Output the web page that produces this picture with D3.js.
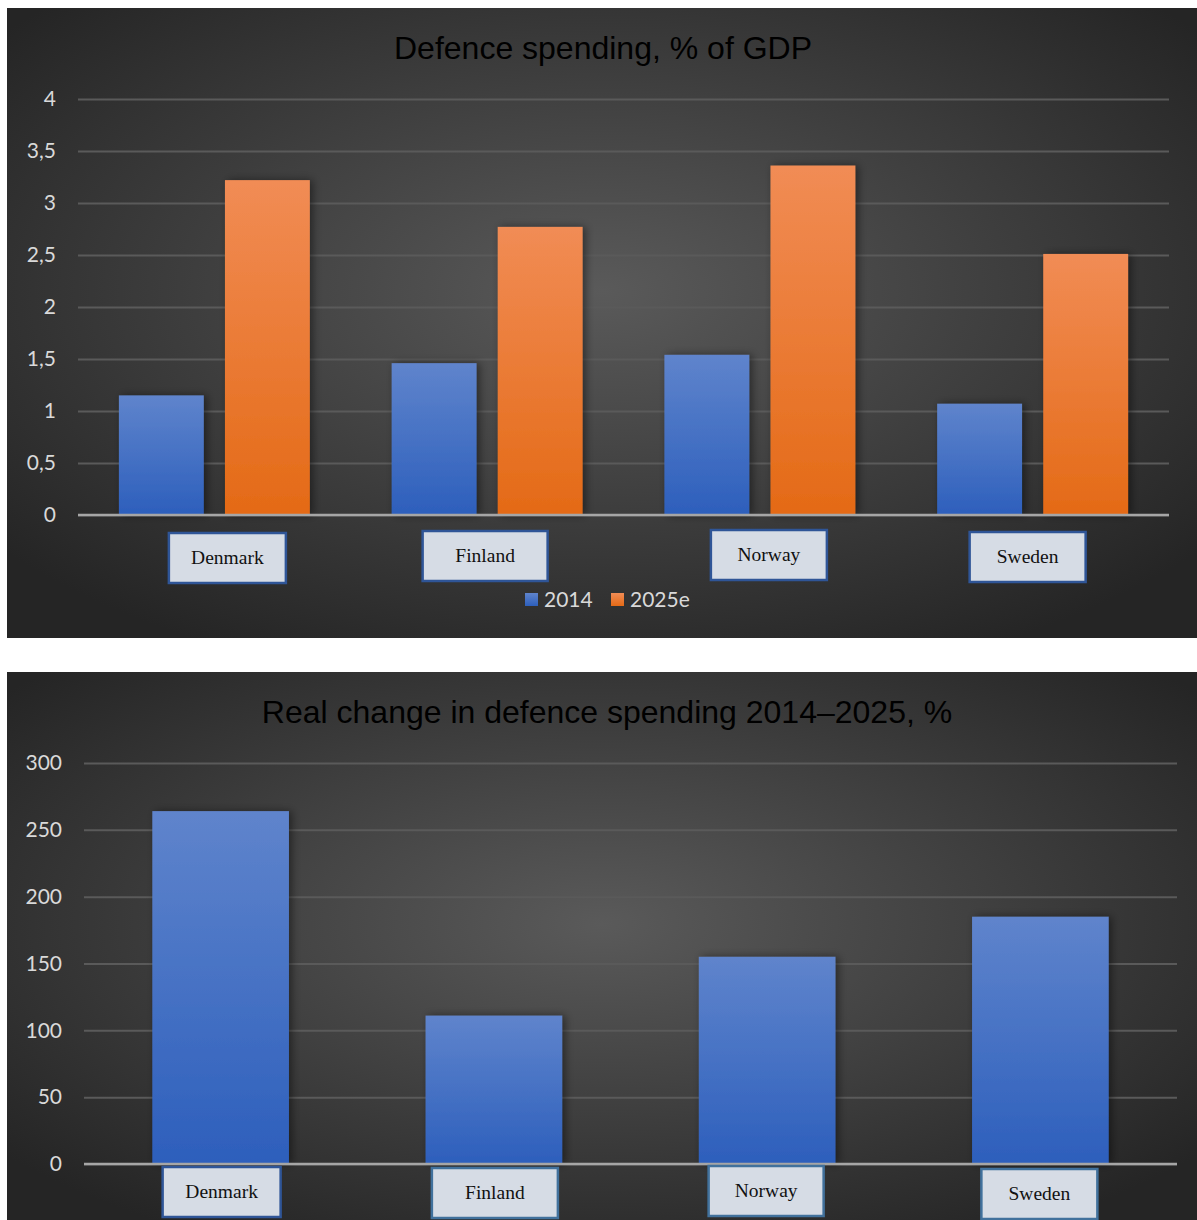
<!DOCTYPE html>
<html>
<head>
<meta charset="utf-8">
<script src="https://cdn.jsdelivr.net/npm/d3@7"></script>
<style>
  body { margin: 0; background: #fff; }
  svg { display: block; }
</style>
</head>
<body>
<div id="chart"></div>
<script>
const countries = ['Denmark', 'Finland', 'Norway', 'Sweden']
const seriesNames = ['2014', '2025e']
const gdp2014 = [1.15, 1.46, 1.54, 1.07]
const gdp2025 = [3.22, 2.77, 3.36, 2.51]
const gdpTicks = [0, 0.5, 1, 1.5, 2, 2.5, 3, 3.5, 4]
const realChange = [264, 111, 155, 185]
const changeTicks = [0, 50, 100, 150, 200, 250, 300]

const width = 1197
const height = 1220

const svg = d3.select('#chart').append('svg')
  .attr('width', width)
  .attr('height', height)

const defs = svg.append('defs')

// panel background, lighter in the middle
const bg = defs.append('radialGradient')
  .attr('id', 'bg')
  .attr('cx', '50%').attr('cy', '45%').attr('r', '65%')
bg.append('stop').attr('offset', '0%').attr('stop-color', '#5a5a5a')
bg.append('stop').attr('offset', '100%').attr('stop-color', '#252525')

function barGradient (id, top, bottom) {
  const g = defs.append('linearGradient')
    .attr('id', id)
    .attr('x1', 0).attr('y1', 0).attr('x2', 0).attr('y2', 1)
  g.append('stop').attr('offset', '0%').attr('stop-color', top)
  g.append('stop').attr('offset', '100%').attr('stop-color', bottom)
}
barGradient('blue', '#5f84cc', '#2d5fbc')
barGradient('orange', '#f18c55', '#e46a16')

const shadow = defs.append('filter')
  .attr('id', 'shadow')
  .attr('x', '-20%').attr('y', '-10%').attr('width', '150%').attr('height', '130%')
shadow.append('feDropShadow')
  .attr('dx', 3).attr('dy', 0).attr('stdDeviation', 4)
  .attr('flood-color', '#000').attr('flood-opacity', 0.45)

const fmt = d => String(d).replace('.', ',')

function panel (opts) {
  const g = svg.append('g')

  g.append('rect')
    .attr('x', opts.x0).attr('y', opts.y0)
    .attr('width', opts.w).attr('height', opts.h)
    .attr('fill', 'url(#bg)')

  g.append('text')
    .attr('x', opts.titleX).attr('y', opts.titleY)
    .attr('text-anchor', 'middle')
    .style('font-family', 'Liberation Sans, Arial, sans-serif')
    .style('font-size', '32px')
    .attr('fill', '#000')
    .text(opts.title)

  const x = d3.scaleBand()
    .domain(countries)
    .range([opts.left, opts.right])
    .paddingInner(opts.padding)
    .paddingOuter(opts.padding / 2)

  const y = d3.scaleLinear()
    .domain([0, opts.max])
    .range([opts.bottom, opts.top])

  // gridlines + tick labels
  const axis = g.append('g')
    .attr('transform', `translate(${opts.left},0)`)
    .call(d3.axisLeft(y)
      .tickValues(opts.ticks)
      .tickFormat(fmt)
      .tickSize(-(opts.right - opts.left))
      .tickPadding(22))
  axis.select('.domain').remove()
  axis.selectAll('.tick line')
    .attr('stroke', '#5a5a5a')
    .attr('stroke-width', 2)
  axis.selectAll('.tick text')
    .attr('fill', '#d9d9d9')
    .style('font-family', 'Lato, "Open Sans", sans-serif')
    .style('font-size', '21px')

  // bars
  opts.series.forEach((s, si) => {
    const inner = d3.scaleBand()
      .domain(d3.range(opts.series.length))
      .range([0, x.bandwidth()])
      .paddingInner(opts.innerPad)
    g.append('g').selectAll('rect')
      .data(s.values)
      .join('rect')
      .attr('x', (d, i) => x(countries[i]) + inner(si))
      .attr('y', d => y(d))
      .attr('width', inner.bandwidth())
      .attr('height', d => y(0) - y(d))
      .attr('fill', `url(#${s.fill})`)
      .attr('filter', 'url(#shadow)')
  })

  // baseline
  g.append('line')
    .attr('x1', opts.left).attr('x2', opts.right)
    .attr('y1', y(0)).attr('y2', y(0))
    .attr('stroke', '#a6a6a6')
    .attr('stroke-width', 2.5)

  // boxed category labels
  const labels = g.append('g').selectAll('g')
    .data(countries)
    .join('g')
    .attr('transform', (d, i) =>
      `translate(${x(d) + x.bandwidth() / 2 + opts.labelShift[i]},${opts.labelY[i]})`)
  labels.append('rect')
    .attr('x', (d, i) => -opts.labelW[i] / 2)
    .attr('y', 0)
    .attr('width', (d, i) => opts.labelW[i])
    .attr('height', 50)
    .attr('fill', '#d6dce5')
    .attr('stroke', (d, i) => opts.boxStroke[i])
    .attr('stroke-width', 2.5)
  labels.append('text')
    .attr('x', 0)
    .attr('y', 31)
    .attr('text-anchor', 'middle')
    .style('font-family', '"Liberation Serif", "DejaVu Serif", serif')
    .style('font-size', '19.5px')
    .attr('fill', '#111')
    .text(d => d)

  return {x, y, g}
}

panel({
  x0: 7, y0: 8, w: 1190, h: 630,
  title: 'Defence spending, % of GDP', titleX: 603, titleY: 59,
  left: 78, right: 1169, top: 99, bottom: 515, max: 4,
  ticks: gdpTicks, padding: 0.3, innerPad: 0.2,
  series: [
    {name: seriesNames[0], values: gdp2014, fill: 'blue'},
    {name: seriesNames[1], values: gdp2025, fill: 'orange'}
  ],
  labelShift: [13, -2, 9, -5],
  labelY: [533, 531, 530, 532],
  labelW: [117, 125, 116, 116],
  boxStroke: ['#2f5597', '#2f5597', '#2f5597', '#2f5597']
})

// legend for the first chart
const legend = svg.append('g')
  .style('font-family', 'Lato, "Open Sans", sans-serif')
  .style('font-size', '21px')
const legendItems = [
  {name: seriesNames[0], fill: 'url(#blue)', x: 525},
  {name: seriesNames[1], fill: 'url(#orange)', x: 611}
]
legendItems.forEach(it => {
  legend.append('rect')
    .attr('x', it.x).attr('y', 593)
    .attr('width', 13).attr('height', 13)
    .attr('fill', it.fill)
  legend.append('text')
    .attr('x', it.x + 19).attr('y', 607)
    .attr('fill', '#d9d9d9')
    .text(it.name)
})

panel({
  x0: 7, y0: 672, w: 1190, h: 560,
  title: 'Real change in defence spending 2014–2025, %', titleX: 607, titleY: 723,
  left: 84, right: 1177, top: 763, bottom: 1164, max: 300,
  ticks: changeTicks, padding: 0.5, innerPad: 0,
  series: [
    {name: 'change', values: realChange, fill: 'blue'}
  ],
  labelShift: [1, 1, -1, -1],
  labelY: [1167, 1168, 1166, 1169],
  labelW: [118, 126, 115, 116],
  boxStroke: ['#2f5597', '#41719c', '#41719c', '#41719c']
})
</script>
</body>
</html>
